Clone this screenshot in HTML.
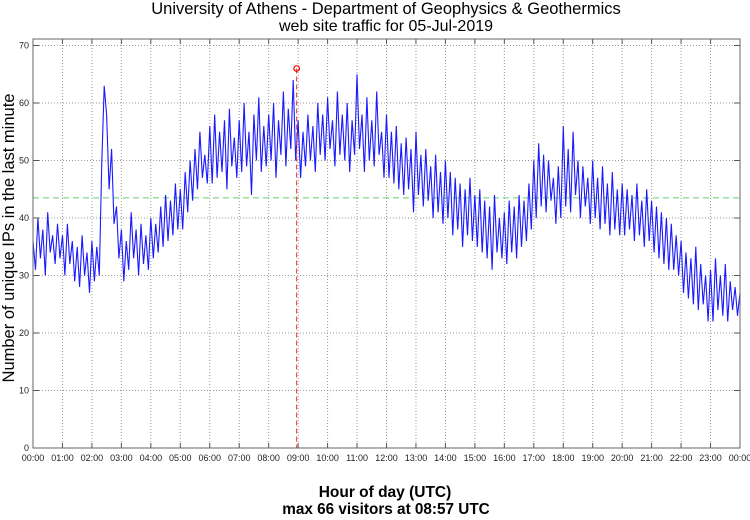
<!DOCTYPE html>
<html><head><meta charset="utf-8"><style>
body{margin:0;background:#fff;font-family:"Liberation Sans",sans-serif;}
svg text{font-family:"Liberation Sans",sans-serif;}
</style></head><body>
<svg id="chart" width="750" height="515" xmlns="http://www.w3.org/2000/svg">
<text x="386" y="14" font-size="16.5" text-anchor="middle">University of Athens - Department of Geophysics &amp; Geothermics</text>
<text x="386" y="31" font-size="16" text-anchor="middle">web site traffic for 05-Jul-2019</text>
<text transform="translate(14,238) rotate(-90)" font-size="16.5" text-anchor="middle">Number of unique IPs in the last minute</text>
<text x="385" y="497" font-size="15.5" font-weight="bold" text-anchor="middle">Hour of day (UTC)</text>
<text x="386" y="514" font-size="15.3" font-weight="bold" text-anchor="middle">max 66 visitors at 08:57 UTC</text>
<g id="grid"></g><g id="series"></g><g id="axes"></g>
</svg>
<script>
const hourLabels=["00:00","01:00","02:00","03:00","04:00","05:00","06:00","07:00","08:00","09:00","10:00","11:00","12:00","13:00","14:00","15:00","16:00","17:00","18:00","19:00","20:00","21:00","22:00","23:00","00:00"];
const yTicks=[0,10,20,30,40,50,60,70];
const visitors=[
36,31,40,33,38,30,41,34,37,32,39,33,
37,30,39,32,36,29,35,28,37,30,34,27,
36,29,35,30,49,63,58,45,52,39,42,33,
38,29,36,31,41,33,38,30,39,32,37,31,
40,33,39,34,42,35,44,36,43,37,46,38,
45,38,48,41,50,43,52,45,55,47,51,46,
56,46,58,47,55,48,57,45,59,49,54,47,
57,48,60,49,55,44,58,50,61,48,56,49,
58,50,60,47,57,51,62,49,59,52,64,50,
57,47,55,49,58,50,56,48,60,51,58,50,
61,52,57,49,62,51,58,50,60,48,57,51,
65,52,58,48,61,50,57,49,62,51,55,47,
58,47,55,46,56,45,53,44,54,45,52,41,
55,44,51,42,52,43,49,40,51,41,48,39,
50,40,48,37,47,38,46,35,45,37,47,36,
44,35,45,34,43,33,42,31,44,34,40,33,
41,32,43,34,42,33,44,35,43,36,46,38,
50,40,53,42,51,41,50,43,47,39,49,40,
56,42,52,41,55,44,50,40,49,42,47,39,
50,40,47,38,49,39,46,37,48,38,45,37,
46,37,45,38,44,36,46,37,43,35,45,36,
43,34,42,33,41,32,40,31,39,31,37,30,
36,27,34,26,33,25,35,24,32,25,30,22,
31,22,33,24,30,23,32,22,29,24,28,23,
27];
const stepMinutes=5;
const meanValue=[43.5];
const peakMinute=[537];
const peakValue=[66];
const X0=33,X1=740,Y0=448,Y1=45.5;
const xs=m=>X0+(m/1440)*(X1-X0);
const ys=v=>Y0-(v/70)*(Y0-Y1);
const NS="http://www.w3.org/2000/svg";
function mk(t,a,p){const e=document.createElementNS(NS,t);for(const k in a)e.setAttribute(k,a[k]);p.appendChild(e);return e;}
const grid=document.getElementById('grid'),ser=document.getElementById('series'),ax=document.getElementById('axes');
hourLabels.forEach((h,i)=>{const x=xs(i*60);
 if(i>0&&i<24){const g=mk('line',{x1:x,x2:x,y1:39,y2:Y0,stroke:'#999','stroke-dasharray':'1,2','stroke-width':1},grid);
 
 }
 const t=mk('line',{x1:x,x2:x,y1:Y0,y2:Y0-5,stroke:'#555'},ax);
 
 
 const t2=mk('line',{x1:x,x2:x,y1:39,y2:44,stroke:'#555'},ax);
 
 
 const l=mk('text',{x:x,y:461,'font-size':9,'text-anchor':'middle',fill:'#222'},ax);l.textContent=h;
 
 
});
yTicks.forEach(v=>{const y=ys(v);
 if(v>0){const g=mk('line',{x1:X0,x2:X1,y1:y,y2:y,stroke:'#999','stroke-dasharray':'1,2'},grid);
 
 }
 const t=mk('line',{x1:X0,x2:X0+6,y1:y,y2:y,stroke:'#555'},ax);
 
 
 const t2=mk('line',{x1:X1-6,x2:X1,y1:y,y2:y,stroke:'#555'},ax);
 
 
 const l=mk('text',{x:29,y:y+3,'font-size':9,'text-anchor':'end',fill:'#222'},ax);l.textContent=v;
 
 
});
const mean=mk('line',{x1:X0,x2:X1,y1:ys(meanValue[0]),y2:ys(meanValue[0]),stroke:'#6c6','stroke-dasharray':'6,4'},ser);


const pts=visitors.map((v,i)=>xs(i*stepMinutes).toFixed(1)+','+ys(v).toFixed(1)).join(' ');
const pl=mk('polyline',{points:pts,fill:'none',stroke:'#1a1aff','stroke-width':1.1,'stroke-linejoin':'miter'},ser);


const pk=mk('line',{x1:xs(peakMinute[0]),x2:xs(peakMinute[0]),y1:ys(peakValue[0]),y2:Y0,stroke:'#e33','stroke-dasharray':'5,3'},ser);


const pm=mk('circle',{cx:xs(peakMinute[0]),cy:ys(peakValue[0]),r:2.8,fill:'none',stroke:'#e00','stroke-width':1.2},ser);


const fr=mk('rect',{x:X0,y:39,width:X1-X0,height:Y0-39,fill:'none',stroke:'#666','stroke-width':1},ax);


</script>
</body></html>
